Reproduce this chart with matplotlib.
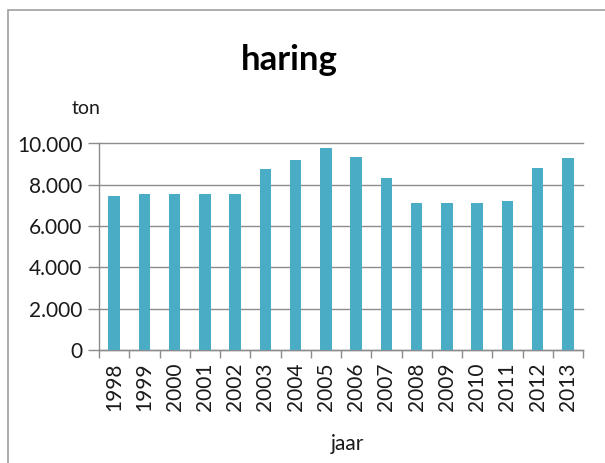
import matplotlib
matplotlib.use("Agg")
import matplotlib.pyplot as plt
from matplotlib.patches import Rectangle
from matplotlib.ticker import FuncFormatter, FixedLocator

years = ["1998", "1999", "2000", "2001", "2002", "2003", "2004", "2005",
         "2006", "2007", "2008", "2009", "2010", "2011", "2012", "2013"]
tons = [7450, 7550, 7550, 7550, 7550, 8770, 9210, 9760,
        9370, 8340, 7140, 7140, 7140, 7210, 8820, 9320]
yticks = [0, 2000, 4000, 6000, 8000, 10000]

plt.rcParams['font.family'] = ['Lato', 'DejaVu Sans']

W, H = 605, 463
fig = plt.figure(figsize=(W / 100, H / 100), dpi=100)
fig.patch.set_facecolor("white")

# outer chart border
fig.patches.append(Rectangle((8 / W, -0.1), 1.2, 1 - 10 / H + 0.1,
                             transform=fig.transFigure, fill=False,
                             edgecolor="#a0a0a0", linewidth=1.2))

left, right, top, bottom = 99, 583, 143.5, 350
ax = fig.add_axes([left / W, 1 - bottom / H, (right - left) / W, (bottom - top) / H])

x = list(range(len(years)))
ax.bar(x, tons, width=0.38, color="#4BACC6", zorder=3)
ax.set_xlim(-0.5, len(years) - 0.5)
ax.set_ylim(0, 10000)

ax.set_yticks(yticks)
ax.yaxis.set_major_formatter(FuncFormatter(lambda v, p: f"{int(v):,}".replace(",", ".")))
ax.grid(axis="y", color="#8c8c8c", linewidth=1.0, zorder=0)
for gl in ax.get_ygridlines():
    gl.set_clip_on(False)
ax.set_axisbelow(True)

ax.set_xticks(x)
ax.set_xticklabels(years, rotation=90)
ax.xaxis.set_minor_locator(FixedLocator([i - 0.5 for i in range(len(years) + 1)]))
ax.tick_params(axis="x", which="major", length=0, pad=9, labelsize=15, labelcolor="#1a1a1a")
ax.tick_params(axis="x", which="minor", length=6, color="#8c8c8c", width=1)
ax.tick_params(axis="y", length=8, color="#8c8c8c", width=1, labelsize=15,
               pad=4, labelcolor="#1a1a1a")

for s in ["top", "right"]:
    ax.spines[s].set_visible(False)
ax.spines["left"].set_color("#8c8c8c")
ax.spines["bottom"].set_color("#8c8c8c")
ax.spines["left"].set_linewidth(1)
ax.spines["bottom"].set_linewidth(1)

fig.text(289 / W, 1 - 60 / H, "haring", ha="center", va="center",
         fontsize=25, fontweight="bold", color="black")
fig.text(86 / W, 1 - 108 / H, "ton", ha="center", va="center", fontsize=14, color="#1a1a1a")
fig.text(347 / W, 1 - 444 / H, "jaar", ha="center", va="center", fontsize=15, color="#1a1a1a")

fig.savefig("out.png", dpi=100)
